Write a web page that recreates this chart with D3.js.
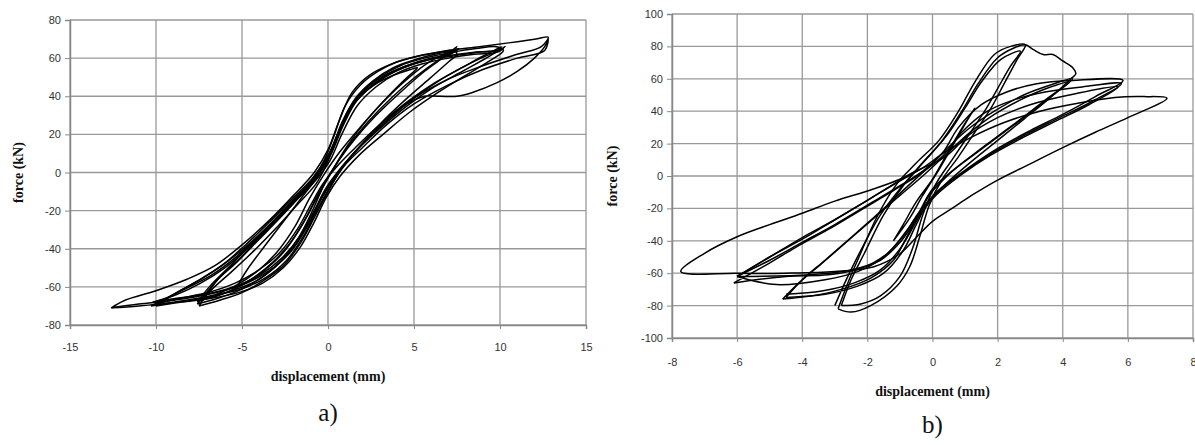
<!DOCTYPE html>
<html>
<head>
<meta charset="utf-8">
<script src="https://cdn.jsdelivr.net/npm/d3@7"></script>
<style>
	body{margin:0;background:#fff;}
	svg{display:block;}
	.tick text{font-family:Arial,"Liberation Sans",sans-serif;font-size:11px;fill:#333;}
	.axtitle{font-family:"Liberation Serif","Times New Roman",serif;font-weight:bold;font-size:14px;fill:#111;}
	.panel{font-family:"Liberation Serif","Times New Roman",serif;font-size:25px;fill:#111;}
</style>
</head>
<body>
<svg id="chart" width="1195" height="445"></svg>
<script>
// ---- chart a) : displacement (mm) / force (kN), one array per cycle
var ticksXA = [-15,-10,-5,0,5,10,15]
var ticksYA = [-80,-60,-40,-20,0,20,40,60,80]

var loopA1 = [[-7.4,-67],[-6.2,-64],[-5,-59],[-3.8,-52],[-2.6,-42],[-1.6,-29],[-0.8,-16],[0,-3],[0.8,9],[1.8,21],[3,33],[4.4,45],[5.8,55],[6.8,61],[7.4,64],
	[7.1,62],[6,60],[4.6,56],[3.3,51],[2.2,44],[1.2,33],[0.5,18],[0,6],[-0.7,-6],[-1.8,-17],[-3,-29],[-4.3,-41],[-5.6,-52],[-6.6,-60],[-7.4,-67]]
var loopA2 = [[-7.6,-69],[-6.4,-66],[-5.2,-62],[-4,-56],[-2.8,-47],[-1.7,-34],[-0.9,-20],[-0.2,-6],[0.6,6],[1.6,18],[2.8,30],[4.2,42],[5.6,53],[6.8,61],[7.5,66],
	[7.2,64],[6.2,62],[5,59],[3.8,55],[2.6,48],[1.6,39],[0.8,26],[0.2,12],[-0.5,0],[-1.5,-11],[-2.7,-23],[-4,-35],[-5.3,-47],[-6.5,-57],[-7.6,-69]]
var loopA3 = [[-7.6,-68],[-6.5,-64],[-5.3,-59],[-4,-51],[-2.9,-41],[-1.9,-28],[-1.1,-14],[-0.3,-2],[0.7,11],[1.9,24],[3.2,37],[4.6,49],[5.9,58],[7,63],[7.6,65],
	[7.3,63],[6.2,60],[5,57],[3.7,52],[2.5,45],[1.4,35],[0.6,20],[0,8],[-0.8,-3],[-2,-14],[-3.2,-26],[-4.5,-38],[-5.8,-50],[-6.9,-60],[-7.6,-68]]
var loopA4 = [[-10,-69],[-8.6,-66],[-7,-63],[-5.4,-58],[-4,-51],[-2.8,-42],[-1.8,-30],[-1,-17],[-0.3,-6],[0.6,4],[1.7,14],[3,25],[4.6,37],[6.2,47],[7.8,55],[9,61],[10.1,66],
	[9.7,64],[8.4,63],[6.8,61],[5.2,58],[3.8,53],[2.6,46],[1.5,36],[0.6,21],[0,9],[-0.9,-3],[-2.1,-14],[-3.4,-26],[-4.8,-38],[-6.2,-49],[-7.6,-57],[-8.8,-63],[-10,-69]]
var loopA5 = [[-10.2,-68],[-8.8,-66],[-7.2,-64],[-5.5,-60],[-4,-54],[-2.7,-45],[-1.6,-33],[-0.8,-20],[-0.1,-8],[0.8,3],[2,15],[3.4,27],[5,39],[6.6,49],[8.2,57],[9.4,62],[10.2,65],
	[9.8,63],[8.5,62],[7,60],[5.5,57],[4,52],[2.8,45],[1.7,35],[0.8,20],[0.1,6],[-0.8,-5],[-2,-16],[-3.3,-28],[-4.7,-40],[-6,-50],[-7.4,-58],[-8.8,-64],[-10.2,-68]]
var loopA6 = [[-10.3,-70],[-8.8,-68],[-7.2,-66],[-5.6,-62],[-4.2,-57],[-3,-49],[-1.9,-38],[-1,-25],[-0.3,-12],[0.5,-1],[1.6,11],[3,23],[4.6,35],[6.2,45],[7.8,53],[9.2,60],[10.3,66],
	[9.9,64],[8.6,63],[7.2,61],[5.8,59],[4.4,55],[3.1,49],[2,41],[1,29],[0.3,14],[-0.4,2],[-1.4,-9],[-2.6,-20],[-3.9,-32],[-5.3,-44],[-6.8,-54],[-8.5,-62],[-10.3,-70]]
var loopA7 = [[-12.6,-71],[-11,-69],[-9,-67],[-7,-64],[-5,-59],[-3.5,-52],[-2.2,-42],[-1.2,-28],[-0.4,-14],[0.3,-4],[1.1,6],[2.2,17],[3.5,28],[5,39],[7,49],[9,56],[11,62],[12.4,66],[12.8,71],
	[12.1,70],[10.5,68],[8.8,66],[7,64],[5.2,61],[3.7,57],[2.4,51],[1.4,42],[0.6,26],[0,12],[-0.8,0],[-2,-12],[-3.4,-25],[-5,-38],[-6.6,-49],[-8.2,-56],[-10,-62],[-11.8,-67],[-12.6,-71]]
var loopA8 = [[-12.6,-71],[-11,-70],[-9,-68],[-7,-65],[-5,-61],[-3.6,-55],[-2.4,-46],[-1.4,-33],[-0.6,-19],[0.1,-8],[0.9,3],[2,13],[3.4,25],[5,36],[7,46],[9,54],[11,60],[12.6,64],[12.8,70],
	[12.6,66],[12,60],[11,53],[9.8,47],[8.4,42],[7.5,40],[6.5,40],[5.6,40],[4.6,36],[3.5,29],[2.3,19]]
var loopA9 = [[-5.3,-60],[-4.3,-55],[-3.2,-47],[-2.2,-37],[-1.3,-24],[-0.5,-10],[0.3,2],[1.2,15],[2.3,28],[3.5,40],[4.5,49],[5.2,55],
	[4.8,54],[3.8,51],[2.7,46],[1.7,38],[0.9,25],[0.2,10],[-0.6,-2],[-1.6,-14],[-2.7,-27],[-3.8,-40],[-4.7,-51],[-5.3,-60]]
var loopA10 = [[-7.5,-70],[-6.3,-67],[-5,-63],[-3.8,-57],[-2.6,-49],[-1.6,-37],[-0.7,-22],[0,-10],[0.8,2],[1.9,14],[3.2,27],[4.6,39],[6,50],[7,58],[7.5,62],
	[7.3,64],[6.4,63],[5.2,61],[4,58],[2.9,53],[1.9,46],[1,35],[0.3,18],[-0.3,5],[-1.2,-7],[-2.4,-19],[-3.7,-31],[-5,-44],[-6.3,-55],[-7.5,-70]]
var loopA11 = [[-10,-70],[-8.5,-68],[-6.8,-66],[-5.2,-63],[-3.8,-58],[-2.6,-50],[-1.6,-39],[-0.8,-26],[-0.1,-13],[0.7,-2],[1.8,9],[3.2,20],[4.8,32],[6.4,42],[8,51],[9.3,58],[10.2,64],
	[9.8,66],[8.6,65],[7.2,63],[5.6,60],[4.2,56],[3,50],[1.9,41],[0.9,27],[0.2,11],[-0.6,-2],[-1.7,-13],[-3,-24],[-4.4,-36],[-5.9,-47],[-7.4,-56],[-8.8,-63],[-10,-70]]
var loopsA = [loopA9, loopA1, loopA2, loopA3, loopA10, loopA4, loopA5, loopA6, loopA11, loopA7, loopA8]

// ---- chart b)
var ticksXB = [-8,-6,-4,-2,0,2,4,6,8]
var ticksYB = [-100,-80,-60,-40,-20,0,20,40,60,80,100]

var loopB1 = [[-1.2,-40],[-0.9,-30],[-0.5,-16],[0,-2],[0.4,12],[0.8,26],[1.3,42],
	[1,32],[0.6,18],[0.2,4],[-0.3,-12],[-0.7,-26],[-1.2,-40]]
var loopB2 = [[-2.9,-82],[-2.6,-66],[-2.3,-52],[-1.7,-25],[-1.1,-5],[-0.5,8],[0.2,22],[0.8,40],[1.3,58],[1.9,75],[2.4,80],[2.85,81],
	[2.6,72],[2.2,57],[1.8,42],[1.3,27],[0.8,12],[0.3,-2],[-0.1,-18],[-0.4,-38],[-0.7,-56],[-1.1,-68],[-1.9,-80],[-2.5,-84],[-2.9,-82]]
var loopB3 = [[-2.8,-80],[-2.5,-64],[-2.1,-48],[-1.5,-24],[-0.9,-6],[-0.3,8],[0.4,24],[1,42],[1.5,58],[2.1,72],[2.7,77],
	[2.4,68],[2,54],[1.6,40],[1.1,25],[0.6,10],[0.1,-5],[-0.3,-24],[-0.6,-44],[-1,-62],[-1.6,-74],[-2.2,-79],[-2.8,-80]]
var loopB4 = [[-3,-80],[-2.6,-62],[-2.1,-42],[-1.6,-24],[-1,-8],[-0.4,6],[0.3,22],[0.9,40],[1.4,57],[2,73],[2.5,79],[2.85,81],[3.1,78],[3.4,75],[3.7,75],[4,71],[4.3,67],[4.4,63],[4.25,60],
	[3.6,48],[2.8,35],[2,22],[1.2,9],[0.4,-5],[-0.1,-15],[-0.5,-30],[-0.9,-46],[-1.5,-60],[-2.3,-68],[-3.3,-73],[-4.5,-75]]
var loopB5 = [[-4.5,-75],[-4,-64],[-3.3,-52],[-2.5,-38],[-1.6,-22],[-0.8,-7],[-0.2,4],[0.4,16],[1.1,29],[1.9,40],[2.8,50],[3.6,56],[4.3,60],
	[3.7,50],[3,39],[2.2,27],[1.4,15],[0.6,3],[0,-8],[-0.4,-22],[-0.8,-38],[-1.2,-52],[-1.9,-63],[-2.8,-70],[-3.7,-74],[-4.6,-76]]
var loopB6 = [[-4.6,-76],[-4.1,-66],[-3.4,-54],[-2.6,-40],[-1.8,-26],[-1,-12],[-0.3,0],[0.4,13],[1.1,26],[1.9,38],[2.7,47],[3.5,54],[4.2,58],
	[3.6,49],[2.9,38],[2.1,26],[1.3,14],[0.5,1],[-0.1,-12],[-0.5,-28],[-1,-45],[-1.6,-58],[-2.4,-66],[-3.4,-71],[-4.5,-73]]
var loopB7 = [[-6,-62],[-5,-52],[-4,-41],[-3,-30],[-2,-18],[-1,-6],[-0.3,3],[0.3,14],[0.8,30],[1.5,44],[2.3,52],[3.2,57],[4.3,59],[5.85,59],
	[5,49],[4,38],[3,28],[2,17],[1.1,5],[0.3,-7],[-0.3,-20],[-0.8,-34],[-1.4,-48],[-2.2,-57],[-3.2,-61],[-4.5,-62],[-6.1,-66]]
var loopB8 = [[-6.1,-66],[-5.2,-56],[-4.2,-44],[-3.2,-33],[-2.2,-21],[-1.2,-9],[-0.4,1],[0.3,12],[0.9,27],[1.6,39],[2.5,47],[3.5,52],[4.6,55],[5.8,57],
	[4.9,46],[3.9,36],[2.9,26],[1.9,15],[1,3],[0.2,-9],[-0.4,-22],[-0.9,-37],[-1.5,-50],[-2.3,-59],[-3.3,-64],[-4.8,-67],[-6,-62]]
var loopB9 = [[-6,-62],[-5,-50],[-4,-39],[-3,-27],[-2,-15],[-1.1,-4],[-0.4,4],[0.4,12],[1.1,25],[2,36],[3,44],[4.2,50],[5.7,55],
	[4.8,44],[3.8,34],[2.8,24],[1.8,13],[0.9,1],[0.1,-12],[-0.5,-27],[-1,-41],[-1.6,-52],[-2.5,-58],[-3.8,-61],[-6,-62]]
var loopB10 = [[-6,-62],[-5,-50],[-4,-38],[-3,-27],[-2,-15],[-1,-3],[-0.3,5],[0.4,15],[1.2,24],[2.2,33],[3.3,40],[4.5,45],[5.6,48.5],[6.5,49],[7.2,48],
	[6,36],[5,27],[4,17.5],[3,7.5],[2,-2.5],[1.2,-12],[0.6,-20],[0,-28],[-0.5,-38],[-1,-48],[-1.8,-56],[-3,-59],[-4.5,-60],[-6,-60],[-7.73,-59],
	[-7,-47.7],[-6,-37.5],[-5,-30],[-4,-23],[-3,-15.5],[-1.9,-8.6],[-1,-2],[-0.46,3.7]]
var loopsB = [loopB1, loopB2, loopB3, loopB4, loopB5, loopB6, loopB7, loopB8, loopB9, loopB10]

var svg = d3.select("#chart")

function drawPanel(opt){
	var x = d3.scaleLinear().domain(opt.xdom).range([opt.left, opt.right])
	var y = d3.scaleLinear().domain(opt.ydom).range([opt.bottom, opt.top])
	var g = svg.append("g")

	// grid
	g.append("g").selectAll("line.gx")
		.data(opt.xticks)
	.enter().append("line")
		.attr("x1", function(d){ return x(d) }).attr("x2", function(d){ return x(d) })
		.attr("y1", opt.top).attr("y2", opt.bottom)
		.attr("stroke", "#999").attr("stroke-width", 1.3)
	g.append("g").selectAll("line.gy")
		.data(opt.yticks)
	.enter().append("line")
		.attr("x1", opt.left).attr("x2", opt.right)
		.attr("y1", function(d){ return y(d) }).attr("y2", function(d){ return y(d) })
		.attr("stroke", "#999").attr("stroke-width", 1.3)

	// axes
	var ax = g.append("g")
		.attr("transform", "translate(0," + opt.bottom + ")")
		.call(d3.axisBottom(x).tickValues(opt.xticks).tickSize(4).tickPadding(opt.xpad).tickFormat(function(d){ return String(d) }))
	var ay = g.append("g")
		.attr("transform", "translate(" + opt.left + ",0)")
		.call(d3.axisLeft(y).tickValues(opt.yticks).tickSize(5).tickPadding(4).tickFormat(function(d){ return String(d) }))
	ax.select(".domain").attr("stroke", "#888").attr("stroke-width", 1.5)
	ay.select(".domain").attr("stroke", "#888").attr("stroke-width", 1.5)
	g.selectAll(".tick line").attr("stroke", "#888")

	// loops
	var line = d3.line()
		.x(function(d){ return x(d[0]) })
		.y(function(d){ return y(d[1]) })
		.curve(d3.curveCatmullRom.alpha(0.5))
	g.append("g").selectAll("path")
		.data(opt.loops)
	.enter().append("path")
		.attr("d", line)
		.attr("fill", "none")
		.attr("stroke", "#000")
		.attr("stroke-width", 1.5)

	// titles
	g.append("text").attr("class", "axtitle")
		.attr("x", x(0)).attr("y", opt.xtitleY)
		.attr("text-anchor", "middle")
		.text("displacement (mm)")
	g.append("text").attr("class", "axtitle")
		.attr("transform", "translate(" + opt.ytitleX + "," + y(0) + ") rotate(-90)")
		.attr("text-anchor", "middle")
		.text("force (kN)")
	g.append("text").attr("class", "panel")
		.attr("x", x(0)).attr("y", opt.panelY)
		.attr("text-anchor", "middle")
		.text(opt.panel)
}

drawPanel({xdom:[-15,15], ydom:[-80,80], left:70, right:586, top:20, bottom:325,
	xticks:ticksXA, yticks:ticksYA, loops:loopsA, xpad:14,
	xtitleY:381, ytitleX:23, panelY:421, panel:"a)"})
drawPanel({xdom:[-8,8], ydom:[-100,100], left:672, right:1193, top:14, bottom:338,
	xticks:ticksXB, yticks:ticksYB, loops:loopsB, xpad:16,
	xtitleY:396, ytitleX:617, panelY:433, panel:"b)"})
</script>
</body>
</html>
